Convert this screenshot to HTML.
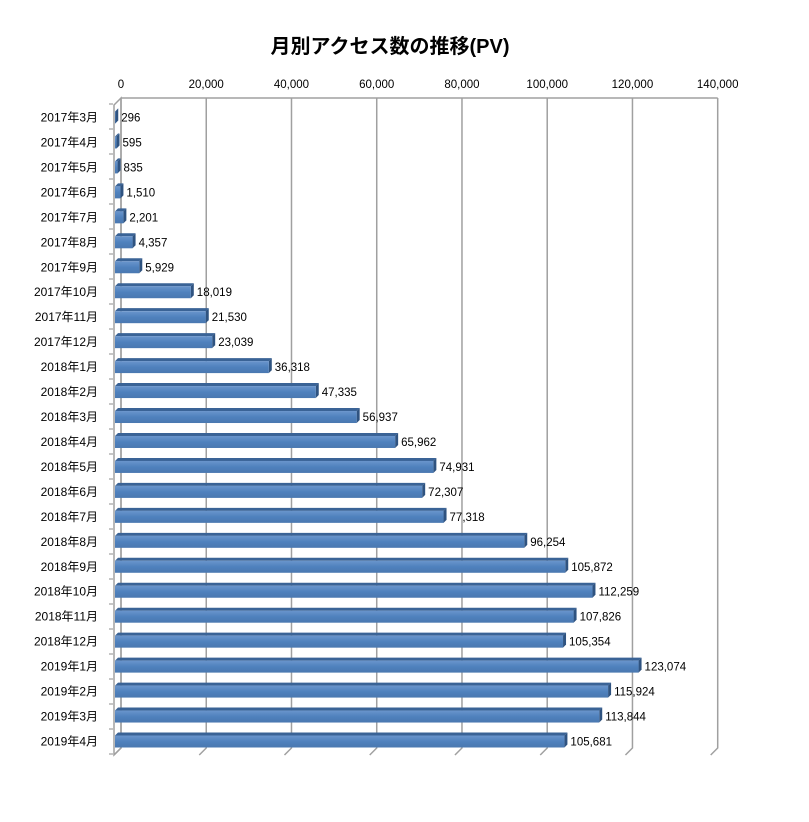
<!DOCTYPE html>
<html><head><meta charset="utf-8"><style>
body{margin:0;background:#fff;}
svg text{font-family:"Liberation Sans","Noto Sans CJK JP",sans-serif;}
</style></head><body>
<svg id="chart" width="809" height="817" viewBox="0 0 809 817">
<defs>
<linearGradient id="bg" x1="0" y1="0" x2="0" y2="1">
<stop offset="0" stop-color="#6a95cc"/><stop offset="0.5" stop-color="#4f81bd"/><stop offset="1" stop-color="#4a78b0"/>
</linearGradient>
</defs>
<text x="390" y="53" text-anchor="middle" font-size="20" font-weight="bold" fill="#000">月別アクセス数の推移(PV)</text>
<g id="grid"></g><g id="bars"></g>
</svg>
<script>
const categories=["2017年3月","2017年4月","2017年5月","2017年6月","2017年7月","2017年8月","2017年9月","2017年10月","2017年11月","2017年12月","2018年1月","2018年2月","2018年3月","2018年4月","2018年5月","2018年6月","2018年7月","2018年8月","2018年9月","2018年10月","2018年11月","2018年12月","2019年1月","2019年2月","2019年3月","2019年4月"];
const values=[296,595,835,1510,2201,4357,5929,18019,21530,23039,36318,47335,56937,65962,74931,72307,77318,96254,105872,112259,107826,105354,123074,115924,113844,105681];
const ticks=[0,20000,40000,60000,80000,100000,120000,140000];
const NS="http://www.w3.org/2000/svg";
const backX0=121,frontX0=114,scaleX=596.7/140000,topY=98,bottomY=748,dx=7,dy=7,step=24.96,firstC=116.5;
const xBack=v=>backX0+v*scaleX, xFront=v=>frontX0+v*scaleX;
const gridG=document.getElementById('grid'),barsG=document.getElementById('bars');
function mk(tag,attrs,parent){const e=document.createElementNS(NS,tag);for(const k in attrs)e.setAttribute(k,attrs[k]);parent.appendChild(e);return e;}
let w=mk('path',{d:`M${backX0} ${topY} L${backX0-dx} ${topY+dy} L${backX0-dx} ${bottomY+dy} L${backX0} ${bottomY} Z`,fill:'none',stroke:'#a0a0a0','stroke-width':1.5},gridG);


let tl=mk('line',{x1:backX0,y1:topY,x2:xBack(140000),y2:topY,stroke:'#a0a0a0','stroke-width':1.5},gridG);


ticks.forEach(t=>{
  const x=xBack(t);
  const g=mk('path',{d:`M${x} ${topY} L${x} ${bottomY} L${x-dx} ${bottomY+dy}`,fill:'none',stroke:'#a0a0a0','stroke-width':1.5},gridG);
  
  
  const lb=mk('text',{x:x,y:88,'text-anchor':'middle','font-size':11.5,fill:'#000'},gridG);
  lb.textContent=t.toLocaleString('en-US');
  
  
});
for(let i=0;i<=categories.length;i++){
  const y=topY+dy-1+i*((bottomY-topY)/categories.length);
  const tk=mk('line',{x1:frontX0-5,y1:y,x2:frontX0-1,y2:y,stroke:'#a0a0a0','stroke-width':1.2},gridG);
  
  
}
categories.forEach((c,i)=>{
  const cy=firstC+i*step, v=values[i];
  const x0=frontX0+1, x1=xFront(v), h=12, y0=cy-h/2+1, d=3;
  const g=mk('g',{},barsG);
  
  
  mk('path',{d:`M${x0} ${y0} L${x0+d} ${y0-d} L${x1+d} ${y0-d} L${x1} ${y0} Z`,fill:'#3a6396'},g);
  mk('path',{d:`M${x1} ${y0} L${x1+d} ${y0-d} L${x1+d} ${y0+h-d} L${x1} ${y0+h} Z`,fill:'#2f5380'},g);
  mk('rect',{x:x0,y:y0,width:Math.max(x1-x0,0.5),height:h,fill:'url(#bg)'},g);
  const vl=mk('text',{x:x1+d+3,y:cy+5,'font-size':11.5,fill:'#000'},g);
  vl.textContent=v.toLocaleString('en-US');
  
  
  const cl=mk('text',{x:98,y:cy+5,'text-anchor':'end','font-size':12,fill:'#000'},barsG);
  cl.textContent=c;
  
  
});
</script>
</body></html>
